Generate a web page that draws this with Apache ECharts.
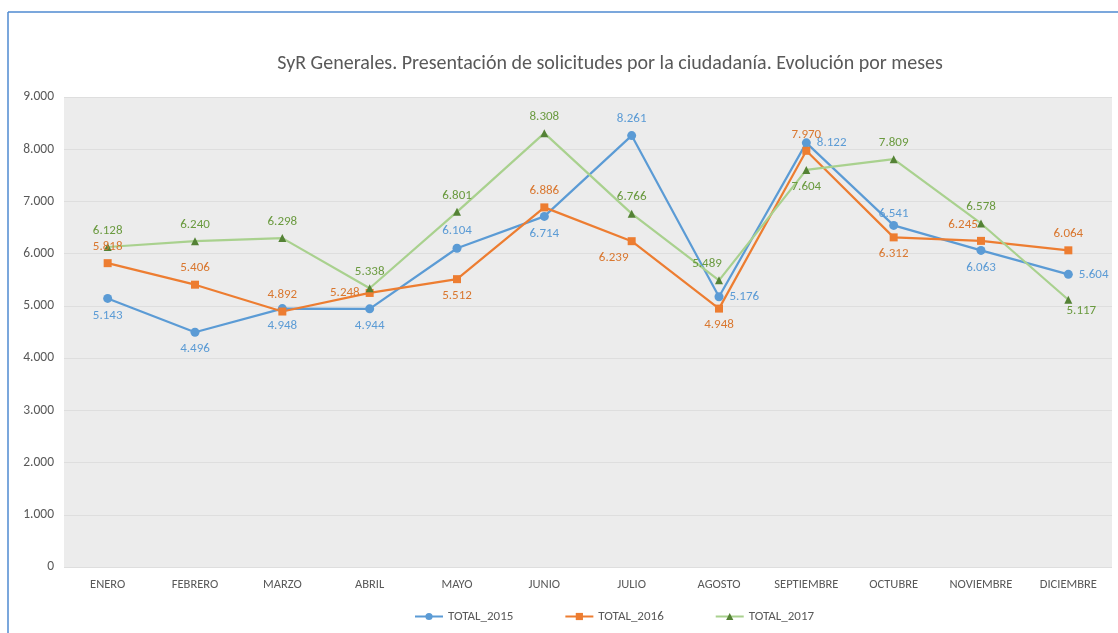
<!DOCTYPE html>
<html>
<head>
<meta charset="utf-8">
<script src="https://cdn.jsdelivr.net/npm/echarts@6/dist/echarts.min.js"></script>
<style>
  html, body { margin: 0; padding: 0; background: #fff; }
  #chart { width: 1118px; height: 633px; }
</style>
</head>
<body>
<div id="chart"></div>
<script>
const months = ['ENERO', 'FEBRERO', 'MARZO', 'ABRIL', 'MAYO', 'JUNIO', 'JULIO', 'AGOSTO', 'SEPTIEMBRE', 'OCTUBRE', 'NOVIEMBRE', 'DICIEMBRE'];
const total2015 = [5143, 4496, 4948, 4944, 6104, 6714, 8261, 5176, 8122, 6541, 6063, 5604];
const total2016 = [5818, 5406, 4892, 5248, 5512, 6886, 6239, 4948, 7970, 6312, 6245, 6064];
const total2017 = [6128, 6240, 6298, 5338, 6801, 8308, 6766, 5489, 7604, 7809, 6578, 5117];

// where each data label sits (like in the original spreadsheet)
const pos2015 = ['bottom', 'bottom', 'bottom', 'bottom', 'top', 'bottom', 'top', 'right', 'right', 'top', 'bottom', 'right'];
const pos2016 = ['top', 'top', 'top', 'left', 'bottom', 'top', 'bottom', 'bottom', 'top', 'bottom', 'top', 'top'];
const pos2017 = ['top', 'top', 'top', 'top', 'top', 'top', 'top', 'top', 'bottom', 'top', 'top', 'bottom'];
// a few labels were dragged sideways in the original
const shift2015 = { 9: [0, 5] };
const shift2016 = { 6: [-18, 0], 10: [-18, 0] };
const shift2017 = { 7: [-12, 0], 11: [13, -6] };

const font = "'Carlito', 'Liberation Sans Narrow', 'Liberation Sans', sans-serif";

const fmt = v => {
  const s = String(v);
  return s.length > 3 ? s.slice(0, s.length - 3) + '.' + s.slice(-3) : s;
};

const makeSeries = (name, values, positions, shifts, lineColor, markerColor, labelColor, symbol, size) => ({
  name,
  type: 'line',
  data: values.map((v, i) => ({
    value: v,
    label: { position: positions[i], offset: shifts[i] || [0, 0] }
  })),
  symbol,
  symbolSize: size,
  lineStyle: { color: lineColor, width: 2.2 },
  itemStyle: { color: markerColor },
  label: {
    show: true,
    color: labelColor,
    fontFamily: font,
    fontSize: 13,
    distance: 6,
    formatter: p => fmt(p.value)
  },
  emphasis: { disabled: true },
  z: 3
});

const chart = echarts.init(document.getElementById('chart'));

chart.setOption({
  animation: false,
  backgroundColor: '#fff',
  textStyle: { fontFamily: font },
  title: {
    text: 'SyR Generales. Presentación de solicitudes por la ciudadanía. Evolución por meses',
    left: 605,
    top: 49,
    textAlign: 'center',
    textStyle: { color: '#595959', fontSize: 20, fontWeight: 'normal', fontFamily: font }
  },
  graphic: [
    { type: 'line', shape: { x1: 8, y1: 12, x2: 1118, y2: 12 }, style: { stroke: '#4f8ad0', lineWidth: 1.5 } },
    { type: 'line', shape: { x1: 8, y1: 12, x2: 8, y2: 633 }, style: { stroke: '#4f8ad0', lineWidth: 1.5 } }
  ],
  legend: {
    bottom: 5,
    left: 409,
    itemWidth: 28,
    itemHeight: 9,
    itemGap: 51,
    textStyle: { color: '#595959', fontSize: 13, fontFamily: font },
    data: ['TOTAL_2015', 'TOTAL_2016', 'TOTAL_2017']
  },
  grid: {
    left: 64,
    right: 6,
    top: 97,
    bottom: 66,
    show: true,
    backgroundColor: '#ececec',
    borderWidth: 0
  },
  xAxis: {
    type: 'category',
    data: months,
    boundaryGap: true,
    axisLine: { show: false },
    axisTick: { show: false },
    axisLabel: { color: '#595959', fontSize: 12.5, margin: 11, fontFamily: font, interval: 0 }
  },
  yAxis: {
    type: 'value',
    min: 0,
    max: 9000,
    interval: 1000,
    axisLine: { show: false },
    axisTick: { show: false },
    splitLine: { lineStyle: { color: '#dedede', width: 1 } },
    axisLabel: { color: '#595959', fontSize: 13.5, margin: 10, fontFamily: font, formatter: fmt }
  },
  series: [
    makeSeries('TOTAL_2015', total2015, pos2015, shift2015, '#5b9bd5', '#5b9bd5', '#5b9bd5', 'circle', 9),
    makeSeries('TOTAL_2016', total2016, pos2016, shift2016, '#ed7d31', '#ed7d31', '#d9772f', 'rect', 8),
    makeSeries('TOTAL_2017', total2017, pos2017, shift2017, '#a9d18e', '#548235', '#6a9a3f', 'triangle', 8)
  ]
});

window.addEventListener('resize', () => chart.resize());
</script>
</body>
</html>
